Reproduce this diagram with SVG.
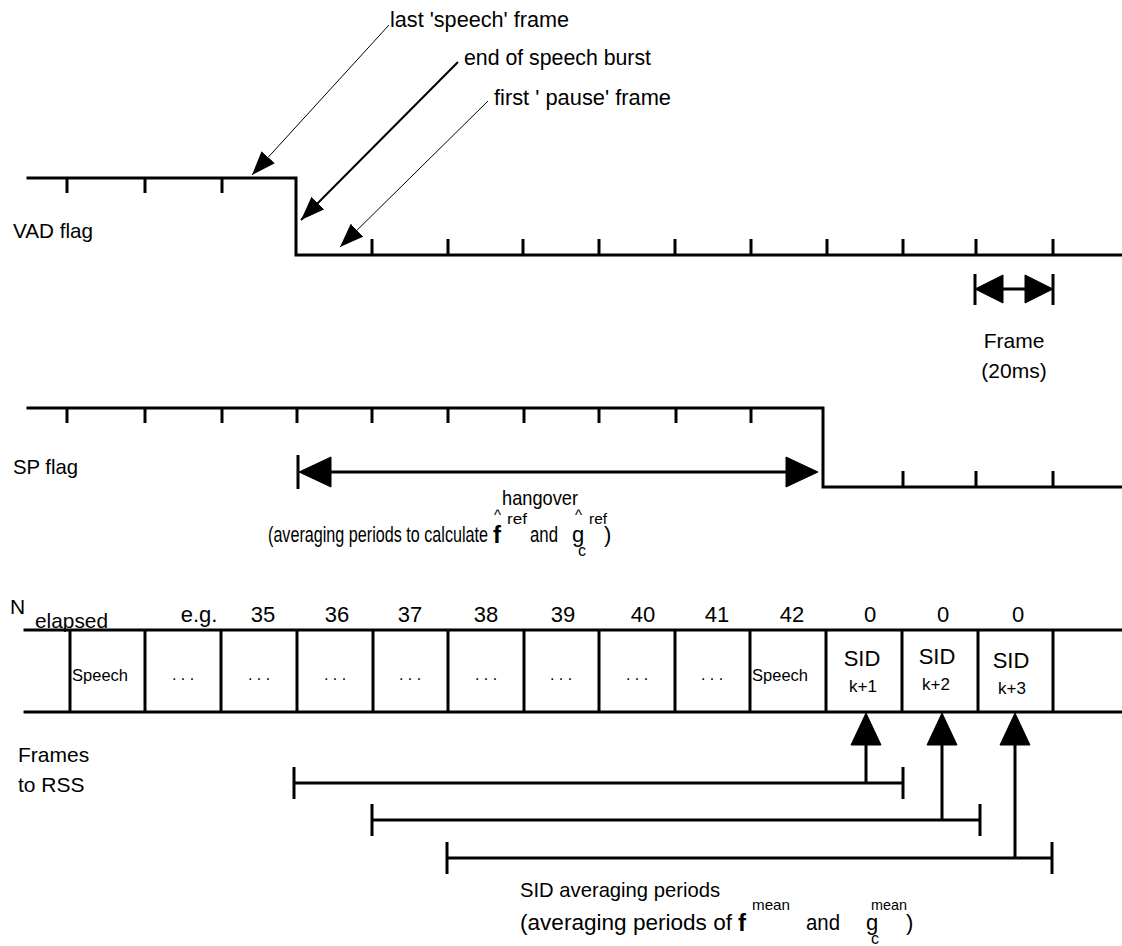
<svg xmlns="http://www.w3.org/2000/svg" width="1122" height="946" viewBox="0 0 1122 946">
<defs>
<style>
text{font-family:"Liberation Sans",Arial,Helvetica,sans-serif;fill:#000}
.t{font-size:21px}
.f{font-size:22px}
.n{font-size:22px}
.s{font-size:16px}
.sup{font-size:15px}
.mid{text-anchor:middle}
.b{font-weight:bold;font-size:24px}
.ln{stroke:#000;stroke-width:3;fill:none;stroke-linecap:square}
.tk{stroke:#000;stroke-width:3;fill:none}
.thin{stroke:#000;stroke-width:1;fill:none}
.med{stroke:#000;stroke-width:2;fill:none}
.hd{fill:#000;stroke:#000;stroke-width:1;stroke-linejoin:round}
</style>
<marker id="ah" markerUnits="userSpaceOnUse" markerWidth="26" markerHeight="20" refX="24" refY="9" orient="auto">
<path d="M0,0 L24,9 L0,18 z" fill="#000"/>
</marker>
</defs>
<rect width="1122" height="946" fill="#fff"/>

<g id="vad-flag">
<polyline class="ln" points="28,178 296,178 296,255 1122,255"/>
<path class="tk" d="M67,178V193M145,178V193M222,178V193M372,255V239M448,255V239M523,255V239M599,255V239M675,255V239M751,255V239M827,255V239M903,255V239M976,255V239M1053,255V239"/>
<text class="t" x="13" y="238" textLength="80" lengthAdjust="spacingAndGlyphs">VAD flag</text>
</g>

<g id="labels-top">
<text class="f" x="390" y="27" textLength="179" lengthAdjust="spacingAndGlyphs">last 'speech' frame</text>
<text class="f" x="464" y="65" textLength="187" lengthAdjust="spacingAndGlyphs">end of speech burst</text>
<text class="f" x="494" y="105" textLength="177" lengthAdjust="spacingAndGlyphs">first ' pause' frame</text>
</g>

<g id="frame-scale">
<path class="tk" d="M975,274V305M1053,274V305M1000,289H1028"/>
<polygon class="hd" points="975,289 1003,275 1003,303"/>
<polygon class="hd" points="1053,289 1025,275 1025,303"/>
<text class="t mid" x="1014" y="348">Frame</text>
<text class="t mid" x="1014" y="378">(20ms)</text>
</g>

<g id="sp-flag">
<polyline class="ln" points="28,408 823,408 823,487 1122,487"/>
<path class="tk" d="M67,408V423M145,408V423M222,408V423M297,408V423M372,408V423M448,408V423M524,408V423M599,408V423M676,408V423M751,408V423M903,487V471M976,487V471M1053,487V471"/>
<text class="t" x="13" y="474" textLength="65" lengthAdjust="spacingAndGlyphs">SP flag</text>
</g>

<g id="hangover">
<path class="tk" d="M298,455V489M325,472H792"/>
<polygon class="hd" points="299,472 331,457 331,487"/>
<polygon class="hd" points="818,472 786,457 786,487"/>
<text class="t" x="502" y="505" textLength="76" lengthAdjust="spacingAndGlyphs">hangover</text>
<text class="f" x="268" y="542" textLength="220" lengthAdjust="spacingAndGlyphs">(averaging periods to calculate</text>
<text class="b" x="493" y="543">f</text>
<text class="sup" x="494" y="520">^</text>
<text class="sup" x="507" y="524" textLength="20" lengthAdjust="spacingAndGlyphs">ref</text>
<text class="f" x="530" y="542" textLength="28" lengthAdjust="spacingAndGlyphs">and</text>
<text class="f" x="572" y="542">g</text>
<text class="sup" x="575" y="520">^</text>
<text class="sup" x="589" y="524" textLength="18" lengthAdjust="spacingAndGlyphs">ref</text>
<text class="s" x="578" y="556">c</text>
<text class="f" x="604" y="542">)</text>
</g>

<g id="frames-row">
<path class="ln" d="M25,630H1122M25,712H1122"/>
<path class="tk" d="M70,630V712M145,630V712M221,630V712M297,630V712M373,630V712M448,630V712M524,630V712M599,630V712M675,630V712M750,630V712M826,630V712M902,630V712M978,630V712M1053,630V712"/>
<text class="t" x="10" y="614">N</text>
<text class="t" x="35" y="628" textLength="73" lengthAdjust="spacingAndGlyphs">elapsed</text>
<text class="n mid" x="199" y="622">e.g.</text>
<text class="n mid" x="263" y="622">35</text>
<text class="n mid" x="337" y="622">36</text>
<text class="n mid" x="410" y="622">37</text>
<text class="n mid" x="486" y="622">38</text>
<text class="n mid" x="563" y="622">39</text>
<text class="n mid" x="643" y="622">40</text>
<text class="n mid" x="717" y="622">41</text>
<text class="n mid" x="792" y="622">42</text>
<text class="n mid" x="870" y="622">0</text>
<text class="n mid" x="943" y="622">0</text>
<text class="n mid" x="1018" y="622">0</text>
<text class="s" x="72" y="681" textLength="56" lengthAdjust="spacingAndGlyphs">Speech</text>
<text class="s mid" x="183" y="680">. . .</text>
<text class="s mid" x="259" y="680">. . .</text>
<text class="s mid" x="335" y="680">. . .</text>
<text class="s mid" x="410" y="680">. . .</text>
<text class="s mid" x="486" y="680">. . .</text>
<text class="s mid" x="561" y="680">. . .</text>
<text class="s mid" x="637" y="680">. . .</text>
<text class="s mid" x="712" y="680">. . .</text>
<text class="s" x="752" y="681" textLength="56" lengthAdjust="spacingAndGlyphs">Speech</text>
<text class="n mid" x="862" y="666">SID</text>
<text class="n mid" x="937" y="664">SID</text>
<text class="n mid" x="1011" y="668">SID</text>
<text class="s mid" x="863" y="692" style="font-size:17px">k+1</text>
<text class="s mid" x="936" y="690" style="font-size:17px">k+2</text>
<text class="s mid" x="1012" y="694" style="font-size:17px">k+3</text>
<text class="t" x="18" y="762">Frames</text>
<text class="t" x="18" y="792">to RSS</text>
</g>

<g id="sid-periods">
<path class="tk" d="M294,767V799M294,783H903M903,767V799M372,804V836M372,820H980M980,804V836M447,842V874M447,858H1052M1052,842V874"/>
<text class="t" x="520" y="897" textLength="200" lengthAdjust="spacingAndGlyphs">SID averaging periods</text>
<text class="f" x="520" y="930" textLength="212" lengthAdjust="spacingAndGlyphs">(averaging periods of</text>
<text class="b" x="738" y="931">f</text>
<text class="sup" x="752" y="910" textLength="38" lengthAdjust="spacingAndGlyphs">mean</text>
<text class="f" x="806" y="930" textLength="34" lengthAdjust="spacingAndGlyphs">and</text>
<text class="f" x="866" y="930">g</text>
<text class="sup" x="871" y="910" textLength="36" lengthAdjust="spacingAndGlyphs">mean</text>
<text class="s" x="871" y="944">c</text>
<text class="f" x="906" y="930">)</text>
</g>

<g id="connectors">
<line class="thin" x1="389" y1="25" x2="252" y2="175" marker-end="url(#ah)"/>
<line class="med" x1="458" y1="62" x2="301" y2="220" marker-end="url(#ah)"/>
<line class="thin" x1="488" y1="101" x2="340" y2="247" marker-end="url(#ah)"/>
<path class="tk" d="M866,783V740M942,820V740M1015,858V740"/>
<polygon class="hd" points="866,713 851,745 881,745"/>
<polygon class="hd" points="942,713 927,745 957,745"/>
<polygon class="hd" points="1015,713 1000,745 1030,745"/>
</g>
</svg>
